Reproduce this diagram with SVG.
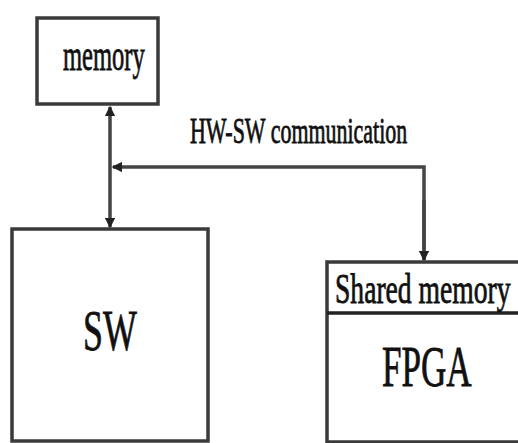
<svg xmlns="http://www.w3.org/2000/svg" width="518" height="443" viewBox="0 0 518 443">
<defs>
<style>
.box{fill:#fff;stroke:#3a3a3a;stroke-width:3.5}
.ln{fill:none;stroke:#444;stroke-width:3.5}
.t{font-family:"Liberation Serif","Times New Roman",serif;fill:#111;stroke:#111;stroke-width:0.8}
</style>
<marker id="ah" viewBox="0 0 8 8" refX="7" refY="4" markerWidth="3" markerHeight="3" orient="auto" markerUnits="strokeWidth">
<path d="M0,0 L8,4 L0,8 z" fill="#222"/>
</marker>
</defs>
<rect width="518" height="443" fill="#fff"/>
<g id="memory">
<rect class="box" x="37" y="18" width="121" height="86"/>
<text class="t" transform="translate(63,70) scale(0.56,1)" font-size="44" textLength="146" lengthAdjust="spacingAndGlyphs">memory</text>
</g>
<g id="sw">
<rect class="box" x="12" y="229" width="196" height="212"/>
<text class="t" transform="translate(83,350) scale(0.64,1)" font-size="56" textLength="84" lengthAdjust="spacingAndGlyphs">SW</text>
</g>
<g id="fpga">
<rect class="box" x="327" y="262" width="200" height="180"/>
<line x1="327" y1="313" x2="520" y2="313" stroke="#222" stroke-width="3.5"/>
<text class="t" transform="translate(335,303) scale(0.66,1)" font-size="42" textLength="266" lengthAdjust="spacingAndGlyphs">Shared memory</text>
<text class="t" transform="translate(382,386) scale(0.61,1)" font-size="58" textLength="147" lengthAdjust="spacingAndGlyphs">FPGA</text>
</g>
<g id="connectors">
<line class="ln" x1="110" y1="167" x2="110" y2="107" marker-end="url(#ah)"/>
<line class="ln" x1="110" y1="167" x2="110" y2="227" marker-end="url(#ah)"/>
<polyline class="ln" points="424,260 424,167 113,167" marker-end="url(#ah)"/>
<line class="ln" x1="424" y1="200" x2="424" y2="260" marker-end="url(#ah)"/>
<text class="t" transform="translate(190,143) scale(0.6,1)" font-size="36" textLength="362" lengthAdjust="spacingAndGlyphs">HW-SW communication</text>
</g>
</svg>
